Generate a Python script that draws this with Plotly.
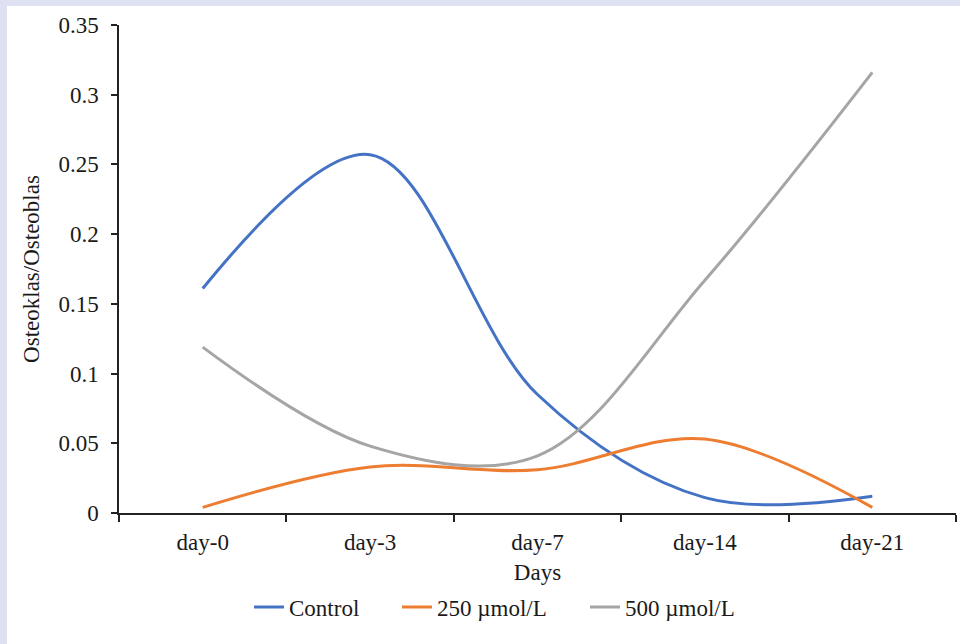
import plotly.graph_objects as go

categories = ["day-0", "day-3", "day-7", "day-14", "day-21"]
control = [0.161, 0.257, 0.085, 0.011, 0.012]
mol250 = [0.004, 0.033, 0.031, 0.053, 0.004]
mol500 = [0.119, 0.048, 0.041, 0.167, 0.316]
series_names = ["Control", "250 µmol/L", "500 µmol/L"]
series_colors = ["#4472C4", "#ED7D31", "#A5A5A5"]
y_ticks = [0, 0.05, 0.1, 0.15, 0.2, 0.25, 0.3, 0.35]
y_ticktext = ["0", "0.05", "0.1", "0.15", "0.2", "0.25", "0.3", "0.35"]

FONT = "Liberation Serif, Times New Roman, serif"
FS = 23
TXT = "#1a1a1a"

L, R, T, B = 119, 4, 25, 131
W, H = 960, 644
pw = W - L - R
ph = H - T - B
lav = "#DEE1F1"

legend_ids = ["legend", "legend2", "legend3"]
legend_px = [257, 405, 593]

fig = go.Figure()
for name, vals, col, lid in zip(series_names, [control, mol250, mol500], series_colors, legend_ids):
    fig.add_trace(go.Scatter(
        x=categories, y=vals, name=name, mode="lines", legend=lid,
        line=dict(color=col, width=3, shape="spline", smoothing=1.0),
    ))

shapes = [
    dict(type="rect", xref="paper", yref="paper", layer="below",
         x0=-L / pw, x1=(7 - L) / pw, y0=-B / ph - 0.01, y1=(H - B) / ph + 0.01,
         fillcolor=lav, line=dict(width=0)),
    dict(type="rect", xref="paper", yref="paper", layer="below",
         x0=-L / pw, x1=(W - L) / pw + 0.01, y0=(H - B - 6) / ph, y1=(H - B) / ph + 0.01,
         fillcolor=lav, line=dict(width=0)),
]

legend_cfg = {}
for lid, px in zip(legend_ids, legend_px):
    legend_cfg[lid] = dict(
        orientation="h", x=(px - 8 - L) / pw, xanchor="left", y=(513 - 607) / ph,
        yanchor="middle", font=dict(family=FONT, size=FS, color=TXT),
        bgcolor="rgba(0,0,0,0)", borderwidth=0,
    )

fig.update_layout(
    width=W, height=H,
    margin=dict(l=L, r=R, t=T, b=B),
    paper_bgcolor="white", plot_bgcolor="white",
    font=dict(family=FONT, size=FS, color=TXT),
    showlegend=True,
    shapes=shapes,
    xaxis=dict(
        type="category", range=[-0.5, 4.5], showline=True, linecolor="#222222",
        linewidth=1.5, ticks="outside", ticklen=7, tickcolor="#222222",
        tickwidth=1.5, tickson="boundaries", showgrid=False, zeroline=False,
        ticklabelstandoff=8,
        tickfont=dict(family=FONT, size=FS, color=TXT),
        title=dict(text="Days", font=dict(family=FONT, size=FS, color=TXT), standoff=10),
    ),
    yaxis=dict(
        range=[0, 0.35], tickvals=y_ticks, ticktext=y_ticktext,
        showline=True, linecolor="#222222", linewidth=1.5, ticks="outside",
        ticklen=6, tickcolor="#222222", tickwidth=1.5, showgrid=False,
        zeroline=False, ticklabelstandoff=8,
        tickfont=dict(family=FONT, size=FS, color=TXT),
        title=dict(text="Osteoklas/Osteoblas", font=dict(family=FONT, size=FS, color=TXT), standoff=12),
    ),
    **legend_cfg,
)

fig.write_html("out.html")
